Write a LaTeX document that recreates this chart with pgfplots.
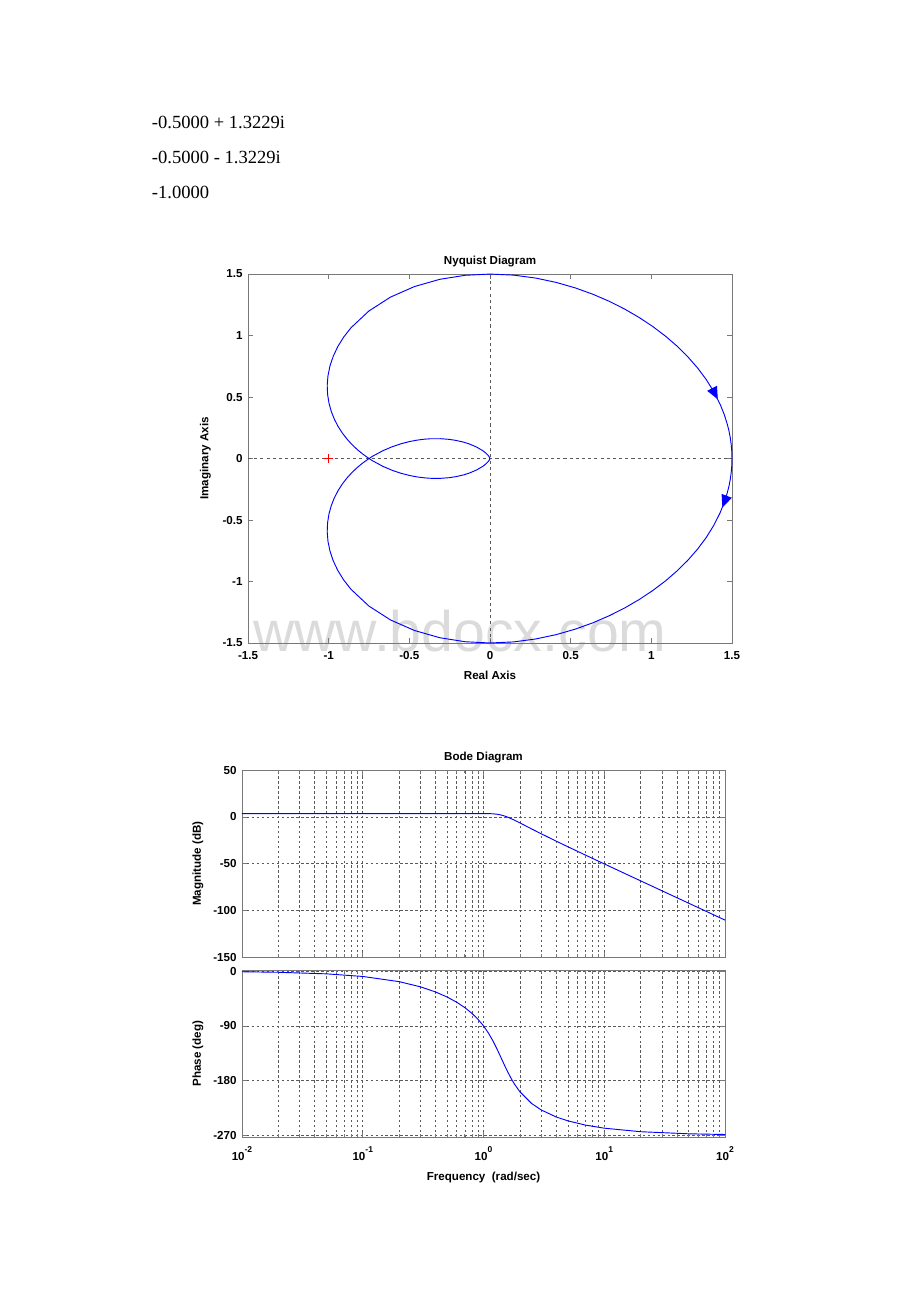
\documentclass[border=0pt]{standalone}
\usepackage{fontspec}
\setmainfont{Liberation Serif}
\newfontfamily\arialfont{Liberation Sans}
\usepackage{pgfplots}
\pgfplotsset{compat=1.18}
\usetikzlibrary{arrows.meta}

\definecolor{mblue}{RGB}{0,0,255}
\definecolor{framegray}{RGB}{120,120,120}
\definecolor{gridgray}{RGB}{90,90,90}

\newcommand\axfont{\arialfont\bfseries\fontsize{7.5}{9}\selectfont}
\newcommand\tenp[1]{10\raisebox{5.5pt}{\fontsize{5.5}{6}\selectfont #1}}

\pgfplotsset{
  matlab/.style={
    scale only axis,
    axis line style={framegray, line width=0.5pt},
    every tick/.style={framegray, line width=0.4pt},
    tick align=inside,
    major tick length=3.5pt,
    minor tick length=2pt,
    tick label style={font=\axfont},
    label style={font=\axfont},
    title style={font=\axfont},
    clip=false,
  },
  bode/.style={
    matlab,
    xmin=0.01, xmax=100,
    xtick={0.01,0.1,1,10,100},
    minor xtick={0.02,0.03,0.04,0.05,0.06,0.07,0.08,0.09,
                 0.2,0.3,0.4,0.5,0.6,0.7,0.8,0.9,
                 2,3,4,5,6,7,8,9,20,30,40,50,60,70,80,90},
    width=312.4pt,
    xmajorgrids, xminorgrids, ymajorgrids,
    major grid style={gridgray, dash pattern=on 1.6pt off 1.6pt, line width=0.35pt},
    minor grid style={gridgray, dash pattern=on 1.6pt off 1.6pt, line width=0.35pt},
    ylabel style={at={(-0.0912,0.5)}, anchor=center},
  },
}

\begin{document}
\begin{tikzpicture}
\useasboundingbox (0,0) rectangle (595pt,842.05pt);

% roots printed above the plots
\node[anchor=base west, inner sep=0, font=\fontsize{12}{14}\selectfont] at (98.1pt,759.0pt) {-0.5000 + 1.3229i};
\node[anchor=base west, inner sep=0, font=\fontsize{12}{14}\selectfont] at (98.1pt,736.4pt) {-0.5000 - 1.3229i};
\node[anchor=base west, inner sep=0, font=\fontsize{12}{14}\selectfont] at (98.1pt,713.8pt) {-1.0000};

% watermark
\node[anchor=base west, inner sep=0, text=black!14, font=\arialfont\fontsize{37}{40}\selectfont] at (163.6pt,421.0pt) {www.bdocx.com};

% Nyquist diagram
\begin{axis}[
  matlab,
  at={(160.4pt,426.2pt)}, anchor=south west,
  width=313.0pt, height=238.6pt,
  xmin=-1.5, xmax=1.5, ymin=-1.5, ymax=1.5,
  xtick={-1.5,-1,-0.5,0,0.5,1,1.5},
  xticklabels={-1.5,-1,-0.5,0,0.5,1,1.5},
  ytick={-1.5,-1,-0.5,0,0.5,1,1.5},
  yticklabels={-1.5,-1,-0.5,0,0.5,1,1.5},
  xticklabel style={anchor=base, yshift=-10.5pt},
  title={Nyquist Diagram},
  title style={at={(0.5,1.0)}, anchor=base},
  xlabel={Real Axis},
  xlabel style={at={(0.5,-0.0977)}, anchor=base},
  ylabel={Imaginary Axis},
  ylabel style={at={(-0.0879,0.5)}, anchor=center},
]
  \addplot[gridgray, dash pattern=on 2pt off 2pt, line width=0.4pt] coordinates {(-1.5,0) (1.5,0)};
  \addplot[gridgray, dash pattern=on 2pt off 2pt, line width=0.4pt] coordinates {(0,-1.5) (0,1.5)};
  % positive frequencies
  \addplot[mblue, line width=0.6pt] coordinates {
    (1.5,0) (1.4988,-0.0562) (1.4953,-0.1123) (1.4895,-0.1682) (1.4814,-0.2237)
    (1.4710,-0.2787) (1.4528,-0.3548) (1.4268,-0.4399) (1.3872,-0.5433)
    (1.3401,-0.6428) (1.2859,-0.7379) (1.2254,-0.8286) (1.1589,-0.9147)
    (1.0868,-0.9962) (1.0091,-1.0732) (0.9259,-1.1458) (0.8368,-1.2138)
    (0.7414,-1.2771) (0.6390,-1.3352) (0.5290,-1.3872) (0.4105,-1.4320)
    (0.2829,-1.4675) (0.1459,-1.4913) (0,-1.5) (-0.1533,-1.4900)
    (-0.3109,-1.4573) (-0.4677,-1.3987) (-0.6170,-1.3125) (-0.7509,-1.1994)
    (-0.8617,-1.0634) (-0.9063,-0.9888) (-0.9431,-0.9113) (-0.9716,-0.8321)
    (-0.9920,-0.7523) (-1.0044,-0.6731) (-1.0091,-0.5956) (-1.0067,-0.5206)
    (-0.9979,-0.4491) (-0.9836,-0.3815) (-0.9644,-0.3184) (-0.9413,-0.2600)
    (-0.9150,-0.2065) (-0.8862,-0.1577) (-0.8557,-0.1137) (-0.8240,-0.0743)
    (-0.7917,-0.0392) (-0.75,0) (-0.7268,0.0193) (-0.6635,0.0640)
    (-0.6035,0.0974) (-0.5477,0.1216) (-0.4965,0.1386) (-0.45,0.15)
    (-0.4080,0.1570) (-0.3701,0.1607) (-0.3057,0.1611) (-0.2540,0.1559)
    (-0.2123,0.1477) (-0.1644,0.1334) (-0.1291,0.1188) (-0.0828,0.0931)
    (-0.0434,0.0625) (-0.0250,0.0433) (-0.0100,0.0229) (-0.0026,0.0086)
    (-0.0006,0.0030) (0,0)};
  % negative frequencies
  \addplot[mblue, line width=0.6pt] coordinates {
    (1.5,0) (1.4988,0.0562) (1.4953,0.1123) (1.4895,0.1682) (1.4814,0.2237)
    (1.4710,0.2787) (1.4528,0.3548) (1.4268,0.4399) (1.3872,0.5433)
    (1.3401,0.6428) (1.2859,0.7379) (1.2254,0.8286) (1.1589,0.9147)
    (1.0868,0.9962) (1.0091,1.0732) (0.9259,1.1458) (0.8368,1.2138)
    (0.7414,1.2771) (0.6390,1.3352) (0.5290,1.3872) (0.4105,1.4320)
    (0.2829,1.4675) (0.1459,1.4913) (0,1.5) (-0.1533,1.4900)
    (-0.3109,1.4573) (-0.4677,1.3987) (-0.6170,1.3125) (-0.7509,1.1994)
    (-0.8617,1.0634) (-0.9063,0.9888) (-0.9431,0.9113) (-0.9716,0.8321)
    (-0.9920,0.7523) (-1.0044,0.6731) (-1.0091,0.5956) (-1.0067,0.5206)
    (-0.9979,0.4491) (-0.9836,0.3815) (-0.9644,0.3184) (-0.9413,0.2600)
    (-0.9150,0.2065) (-0.8862,0.1577) (-0.8557,0.1137) (-0.8240,0.0743)
    (-0.7917,0.0392) (-0.75,0) (-0.7268,-0.0193) (-0.6635,-0.0640)
    (-0.6035,-0.0974) (-0.5477,-0.1216) (-0.4965,-0.1386) (-0.45,-0.15)
    (-0.4080,-0.1570) (-0.3701,-0.1607) (-0.3057,-0.1611) (-0.2540,-0.1559)
    (-0.2123,-0.1477) (-0.1644,-0.1334) (-0.1291,-0.1188) (-0.0828,-0.0931)
    (-0.0434,-0.0625) (-0.0250,-0.0433) (-0.0100,-0.0229) (-0.0026,-0.0086)
    (-0.0006,-0.0030) (0,0)};
  % direction arrows
  \addplot[mblue, line width=0.6pt, -{Triangle[length=8pt,width=7pt]}] coordinates {(1.3957,0.5229) (1.4119,0.4817)};
  \addplot[mblue, line width=0.6pt, -{Triangle[length=8pt,width=7pt]}] coordinates {(1.4528,-0.3548) (1.4405,-0.3976)};
  \addplot[red, only marks, mark=+, mark size=3pt, line width=0.5pt] coordinates {(-1,0)};
\end{axis}

% Bode magnitude
\begin{semilogxaxis}[
  bode,
  at={(156.5pt,223.1pt)}, anchor=south west,
  height=120.9pt,
  ymin=-150, ymax=50,
  ytick={-150,-100,-50,0,50},
  yticklabels={-150,-100,-50,0,50},
  xticklabels={},
  title={Bode Diagram},
  title style={at={(0.5,1.0024)}, anchor=base},
  ylabel={Magnitude (dB)},
]
  \addplot[mblue, line width=0.6pt] coordinates {
    (0.01,3.52) (0.1,3.51) (0.2,3.48) (0.3,3.44) (0.5,3.37) (0.7,3.39)
    (0.8,3.43) (0.9,3.49) (1.0,3.52) (1.1,3.46) (1.2,3.23) (1.3,2.73)
    (1.4,1.90) (1.5,0.78) (1.6,-0.56) (1.8,-3.52) (2.0,-6.48) (2.5,-12.92)
    (3,-18.09) (4,-26.03) (5,-32.04) (7,-40.98) (10,-50.37) (20,-68.5)
    (50,-92.4) (100,-110.5)};
\end{semilogxaxis}

% Bode phase
\begin{semilogxaxis}[
  bode,
  at={(156.5pt,106.7pt)}, anchor=south west,
  height=108.0pt,
  ymin=-273, ymax=2,
  ytick={-270,-180,-90,0},
  yticklabels={-270,-180,-90,0},
  xticklabels={\tenp{-2},\tenp{-1},\tenp{0},\tenp{1},\tenp{2}},
  xticklabel style={anchor=base, yshift=-15.5pt},
  xlabel={Frequency\ \ (rad/sec)},
  xlabel style={at={(0.5,-0.260)}, anchor=base},
  ylabel={Phase (deg)},
]
  \addplot[mblue, line width=0.6pt] coordinates {
    (0.01,-0.86) (0.02,-1.72) (0.05,-4.30) (0.1,-8.59) (0.2,-17.13)
    (0.3,-25.63) (0.4,-34.07) (0.5,-42.51) (0.6,-51.06) (0.7,-59.86)
    (0.8,-69.13) (0.9,-79.09) (1.0,-90) (1.1,-102.04) (1.2,-115.18)
    (1.3,-129.02) (1.4,-142.83) (1.5,-155.77) (1.6,-167.28) (1.7,-177.17)
    (1.8,-185.51) (2.0,-198.43) (2.5,-217.73) (3,-228.37) (4,-240.02)
    (5,-246.42) (7,-253.40) (10,-258.46) (20,-264.26) (50,-267.71)
    (100,-268.85)};
\end{semilogxaxis}
\end{tikzpicture}
\end{document}
